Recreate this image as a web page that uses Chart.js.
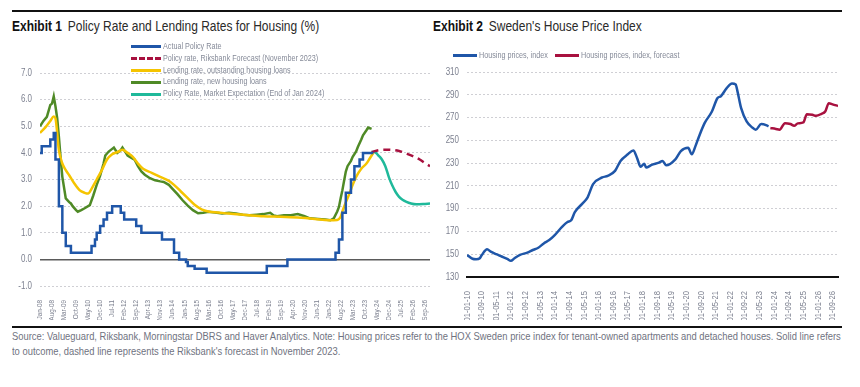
<!DOCTYPE html>
<html>
<head>
<meta charset="utf-8">
<script src="https://cdn.jsdelivr.net/npm/chart.js@4.4.1/dist/chart.umd.min.js"></script>
<style>
    body { margin: 0; width: 860px; height: 387px; background: #fff; position: relative; overflow: hidden;
           font-family: 'Liberation Sans', Arial, sans-serif; }
    .rule { position: absolute; left: 12px; width: 830px; background: #111; }
    .nx { display: inline-block; white-space: nowrap; transform: scaleX(0.8); transform-origin: 0 50%; }
    .title { position: absolute; top: 17px; font-size: 15px; line-height: 18px; color: #2a2a2a; }
    .title b { color: #111; margin-right: 3px; }
    canvas { position: absolute; }
    .legend { position: absolute; font-size: 9px; color: #858a98; white-space: nowrap; }
    .legend .row { height: 11.8px; line-height: 11.8px; display: flex; align-items: center; }
    .sw { display: inline-block; height: 0; border-top: 3px solid; }
    .legend .sw { width: 30px; margin-right: 2px; }
    .item2 { position: absolute; top: 49px; font-size: 9px; line-height: 12px; color: #858a98; display: flex; align-items: center; white-space: nowrap; }
    .item2 .sw { width: 24px; margin-right: 2px; }
    .note { position: absolute; left: 12px; top: 329px; font-size: 10.5px; line-height: 14.5px; color: #6f7280; transform: scaleX(0.895); transform-origin: 0 0; white-space: nowrap; }
</style>
</head>
<body>

<div class="rule" style="top:10px;height:2px"></div>
<div class="title" style="left:12px"><span class="nx"><b>Exhibit 1</b> Policy Rate and Lending Rates for Housing (%)</span></div>
<div class="title" style="left:433px"><span class="nx"><b>Exhibit 2</b> Sweden's House Price Index</span></div>

<canvas id="rateChart" width="440" height="262" style="left:0;top:58px"></canvas>
<canvas id="houseChart" width="420" height="262" style="left:440px;top:58px"></canvas>

<div class="legend" style="left:131px;top:41px">
    <div class="row"><span class="sw" style="border-color:#1f56a8"></span><span class="nx">Actual Policy Rate</span></div>
    <div class="row"><span class="sw" style="border-color:#a8113f;border-top-style:dashed"></span><span class="nx">Policy rate, Riksbank Forecast (November 2023)</span></div>
    <div class="row"><span class="sw" style="border-color:#f5c400"></span><span class="nx">Lending rate, outstanding housing loans</span></div>
    <div class="row"><span class="sw" style="border-color:#4f8a26"></span><span class="nx">Lending rate, new housing loans</span></div>
    <div class="row"><span class="sw" style="border-color:#1fb99a"></span><span class="nx">Policy Rate, Market Expectation (End of Jan 2024)</span></div>
</div>

<div class="item2" style="left:453px"><span class="sw" style="border-color:#1f56a8"></span><span class="nx">Housing prices, index</span></div>
<div class="item2" style="left:555px"><span class="sw" style="border-color:#a8113f"></span><span class="nx">Housing prices, index, forecast</span></div>

<div class="rule" style="top:326px;height:1.5px"></div>
<div class="note">Source: Valueguard, Riksbank, Morningstar DBRS and Haver Analytics. Note: Housing prices refer to the HOX Sweden price index for tenant-owned apartments and detached houses. Solid line refers<br>to outcome, dashed line represents the Riksbank's forecast in November 2023.</div>

<script>
// ======================
// DATA - EXHIBIT 1 (month strings, % values)
// ======================
const policyMonths = ['2008-01','2008-02','2008-07','2008-09','2008-10','2008-12','2009-02','2009-04','2009-07',
    '2010-07','2010-09','2010-10','2010-12','2011-02','2011-04','2011-07','2011-12','2012-02','2012-09','2012-12',
    '2013-12','2014-07','2014-10','2015-02','2015-03','2015-07','2016-02','2019-01','2020-01','2022-05','2022-07',
    '2022-09','2022-11','2023-02','2023-04','2023-07','2023-09','2024-03'];
const policyRates = [4.00, 4.25, 4.50, 4.75, 3.75, 2.00, 1.00, 0.50, 0.25,
    0.50, 0.75, 1.00, 1.25, 1.50, 1.75, 2.00, 1.75, 1.50, 1.25, 1.00,
    0.75, 0.25, 0.00, -0.10, -0.25, -0.35, -0.50, -0.25, 0.00, 0.25, 0.75,
    1.75, 2.50, 3.00, 3.50, 3.75, 4.00, 4.00];

const forecastMonths = ['2024-02','2024-06','2024-10','2025-02','2025-06','2025-10','2026-02','2026-06','2026-09','2026-12'];
const forecastRates = [4.03, 4.10, 4.12, 4.11, 4.07, 3.98, 3.88, 3.75, 3.62, 3.50];

const marketMonths = ['2024-02','2024-04','2024-06','2024-08','2024-10','2024-12','2025-02','2025-04','2025-06',
    '2025-08','2025-10','2026-01','2026-04','2026-08','2026-12'];
const marketRates = [4.03, 4.02, 3.90, 3.75, 3.50, 3.10, 2.78, 2.53, 2.35, 2.24, 2.17, 2.10, 2.07, 2.08, 2.10];

const outstandingMonths = ['2008-01','2008-04','2008-07','2008-09','2008-10','2008-12','2009-02','2009-04','2009-06',
    '2009-09','2009-12','2010-03','2010-05','2010-07','2010-10','2011-01','2011-04','2011-07','2011-10','2012-01',
    '2012-04','2012-07','2012-10','2013-01','2013-06','2013-11','2014-04','2014-07','2014-11','2015-03','2015-07',
    '2015-11','2016-03','2016-09','2017-03','2018-01','2018-11','2019-09','2020-07','2021-05','2022-01','2022-06',
    '2022-08','2022-09','2022-11','2023-01','2023-03','2023-05','2023-08','2023-11','2024-01','2024-03'];
const outstandingRates = [4.75, 4.95, 5.20, 5.37, 5.30, 4.10, 3.60, 3.35, 3.16,
    2.85, 2.60, 2.50, 2.47, 2.65, 3.00, 3.35, 3.75, 3.95, 4.03, 4.12,
    4.00, 3.85, 3.60, 3.40, 3.25, 3.10, 2.95, 2.80, 2.55, 2.30, 2.05,
    1.88, 1.80, 1.76, 1.72, 1.67, 1.62, 1.60, 1.57, 1.52, 1.47, 1.48,
    1.60, 1.80, 2.15, 2.45, 2.80, 3.10, 3.40, 3.60, 3.80, 4.00];

const newLoanMonths = ['2008-01','2008-03','2008-05','2008-07','2008-08','2008-09','2008-10','2008-11','2008-12',
    '2009-01','2009-02','2009-04','2009-06','2009-07','2009-08','2009-10','2009-11','2010-01','2010-03','2010-06',
    '2010-08','2010-10','2010-12','2011-02','2011-03','2011-05','2011-07','2011-08','2011-10','2011-12','2012-01',
    '2012-03','2012-04','2012-06','2012-08','2012-10','2012-12','2013-02','2013-05','2013-08','2013-11','2014-01',
    '2014-04','2014-06','2014-09','2014-12','2015-03','2015-06','2015-09','2015-12','2016-03','2016-07','2016-11',
    '2017-03','2017-07','2017-11','2018-03','2018-07','2018-11','2019-03','2019-05','2019-07','2019-11','2020-03',
    '2020-07','2020-11','2021-02','2021-07','2021-11','2022-02','2022-04','2022-06','2022-07','2022-08','2022-09',
    '2022-10','2022-11','2022-12','2023-02','2023-03','2023-05','2023-06','2023-08','2023-09','2023-11','2023-12',
    '2024-02'];
const newLoanRates = [5.00, 5.20, 5.35, 5.80, 5.85, 6.12, 5.75, 5.30, 4.60,
    3.80, 3.10, 2.29, 2.15, 2.10, 2.00, 1.85, 1.79, 1.85, 1.92, 2.04,
    2.40, 2.80, 3.15, 3.60, 3.90, 4.05, 4.15, 4.20, 4.00, 4.10, 4.20,
    4.00, 3.90, 3.82, 3.75, 3.50, 3.30, 3.18, 3.05, 2.97, 2.93, 2.91,
    2.80, 2.66, 2.45, 2.22, 2.02, 1.85, 1.73, 1.75, 1.79, 1.76, 1.72,
    1.75, 1.72, 1.68, 1.66, 1.68, 1.70, 1.75, 1.65, 1.62, 1.66, 1.66,
    1.70, 1.62, 1.54, 1.52, 1.50, 1.47, 1.54, 1.80, 1.97, 2.30, 2.60,
    2.95, 3.30, 3.50, 3.70, 3.85, 4.05, 4.22, 4.50, 4.66, 4.85, 4.95,
    4.90];

// ======================
// DATA - EXHIBIT 2 (HOX index)
// ======================
const houseMonths = ['2010-01','2010-04','2010-06','2010-08','2010-09','2010-12','2011-02','2011-05','2011-08',
    '2011-11','2012-01','2012-03','2012-06','2012-10','2013-01','2013-04','2013-07','2013-10','2014-01','2014-05',
    '2014-08','2014-10','2014-12','2015-04','2015-07','2015-10','2016-03','2016-06','2016-10','2017-01','2017-05',
    '2017-08','2017-10','2017-12','2018-02','2018-03','2018-06','2018-10','2018-12','2019-02','2019-07','2019-10',
    '2020-02','2020-04','2020-06','2020-08','2020-11','2021-03','2021-06','2021-08','2021-11','2022-02','2022-04',
    '2022-05','2022-07','2022-10','2023-01','2023-03','2023-06','2023-09','2023-10'];
const houseIndex = [149.4, 146.0, 145.6, 146.5, 149.0, 154.3, 152.3, 150.0, 148.0,
    145.9, 144.2, 146.5, 149.4, 151.4, 153.7, 155.7, 159.5, 162.4, 166.7, 174.0,
    178.3, 179.8, 187.0, 194.2, 200.0, 211.6, 217.4, 218.8, 223.2, 231.9, 237.7,
    241.1, 234.8, 226.7, 229.5, 226.1, 228.4, 230.4, 231.9, 228.1, 233.3, 240.5,
    243.4, 237.7, 244.9, 253.6, 265.1, 275.3, 286.9, 288.9, 295.6, 299.9, 299.0,
    293.0, 278.2, 266.6, 261.4, 259.4, 264.3, 263.1, 262.3];

const houseFcMonths = ['2023-11','2024-02','2024-04','2024-07','2024-10','2024-12','2025-02','2025-05','2025-07',
    '2025-10','2025-12','2026-03','2026-05','2026-07','2026-09','2026-12'];
const houseFcIndex = [260.8, 260.0, 259.4, 265.1, 264.3, 262.8, 264.9, 265.7, 273.0,
    272.4, 271.5, 273.3, 275.3, 282.6, 281.6, 280.2];

const MONTH_NAMES = ['Jan','Feb','Mar','Apr','May','Jun','Jul','Aug','Sep','Oct','Nov','Dec'];


// ======================
// HELPERS
// ======================
function monthIndex(s, baseYear) {
    const [y, m] = s.split('-').map(Number);
    return (y - baseYear) * 12 + (m - 1);
}

function toPoints(months, values, baseYear) {
    return months.map((s, i) => ({ x: monthIndex(s, baseYear), y: values[i] }));
}

const yy = n => String(n % 100).padStart(2, '0');

// the original uses a narrow typeface; squeeze canvas text horizontally
const NARROW = 0.8;
const narrowText = {
    id: 'narrowText',
    beforeDraw(chart) {
        const ctx = chart.ctx;
        if (ctx._narrow) return;
        const fill = ctx.fillText.bind(ctx);
        ctx.fillText = (text, x, y) => fill(text, x, y, ctx.measureText(text).width * NARROW);
        ctx._narrow = true;
    }
};

Chart.defaults.font.family = "'Liberation Sans', Arial, sans-serif";
Chart.defaults.color = '#7d8190';
Chart.defaults.animation = false;

const GRID = '#cfcfd4';


// ======================
// EXHIBIT 1 CHART
// ======================
new Chart(document.getElementById('rateChart'), {
    type: 'line',
    plugins: [narrowText],
    data: {
        datasets: [
            {
                label: 'Actual Policy Rate',
                data: toPoints(policyMonths, policyRates, 2008),
                borderColor: '#1f56a8',
                borderWidth: 2.5,
                stepped: true
            },
            {
                label: 'Policy rate, Riksbank Forecast (November 2023)',
                data: toPoints(forecastMonths, forecastRates, 2008),
                borderColor: '#a8113f',
                borderWidth: 2.5,
                borderDash: [7, 5],
                cubicInterpolationMode: 'monotone'
            },
            {
                label: 'Lending rate, outstanding housing loans',
                data: toPoints(outstandingMonths, outstandingRates, 2008),
                borderColor: '#f5c400',
                borderWidth: 2.5,
                cubicInterpolationMode: 'monotone'
            },
            {
                label: 'Lending rate, new housing loans',
                data: toPoints(newLoanMonths, newLoanRates, 2008),
                borderColor: '#4f8a26',
                borderWidth: 2.5
            },
            {
                label: 'Policy Rate, Market Expectation (End of Jan 2024)',
                data: toPoints(marketMonths, marketRates, 2008),
                borderColor: '#1fb99a',
                borderWidth: 2.5,
                cubicInterpolationMode: 'monotone'
            }
        ]
    },
    options: {
        responsive: false,
        layout: { padding: { top: 15, right: 10, left: 0, bottom: 0 } },
        elements: { point: { radius: 0 } },
        plugins: { legend: { display: false }, tooltip: { enabled: false } },
        scales: {
            x: {
                type: 'linear',
                min: 0,
                max: 227,
                grid: { display: false },
                border: { display: false },
                ticks: {
                    stepSize: 7,
                    includeBounds: false,
                    autoSkip: false,
                    maxRotation: 90,
                    minRotation: 90,
                    padding: 6,
                    font: { size: 8 },
                    callback: v => MONTH_NAMES[v % 12] + '-' + yy(8 + Math.floor(v / 12))
                },
                afterFit: s => { s.height = 34; s.paddingLeft = 0; s.paddingRight = 0; }
            },
            y: {
                min: -1,
                max: 7,
                grid: {
                    drawTicks: false,
                    color: c => (c.tick && c.tick.value === 0) ? '#5a5a5a' : GRID,
                    lineWidth: c => (c.tick && c.tick.value === 0) ? 1.5 : 1
                },
                border: { display: false, dash: c => (c.tick && c.tick.value === 0) ? [] : [2, 2] },
                ticks: {
                    stepSize: 1,
                    padding: 8,
                    font: { size: 10 },
                    callback: v => v.toFixed(1)
                },
                afterFit: s => { s.width = 40; }
            }
        }
    }
});


// ======================
// EXHIBIT 2 CHART
// ======================
new Chart(document.getElementById('houseChart'), {
    type: 'line',
    plugins: [narrowText],
    data: {
        datasets: [
            {
                label: 'Housing prices, index',
                data: toPoints(houseMonths, houseIndex, 2010),
                borderColor: '#1f56a8',
                borderWidth: 2.5,
                cubicInterpolationMode: 'monotone'
            },
            {
                label: 'Housing prices, index, forecast',
                data: toPoints(houseFcMonths, houseFcIndex, 2010),
                borderColor: '#a8113f',
                borderWidth: 2.5,
                cubicInterpolationMode: 'monotone'
            }
        ]
    },
    options: {
        responsive: false,
        layout: { padding: { top: 12, right: 22, left: 0, bottom: 0 } },
        elements: { point: { radius: 0 } },
        plugins: { legend: { display: false }, tooltip: { enabled: false } },
        scales: {
            x: {
                type: 'linear',
                min: 0,
                max: 203,
                grid: { display: false },
                border: { display: true, color: '#111', width: 2 },
                ticks: {
                    stepSize: 8,
                    includeBounds: false,
                    autoSkip: false,
                    maxRotation: 90,
                    minRotation: 90,
                    padding: 6,
                    font: { size: 9.5 },
                    callback: v => '01-' + String(v % 12 + 1).padStart(2, '0') + '-' + yy(10 + Math.floor(v / 12))
                },
                afterFit: s => { s.height = 43; s.paddingLeft = 0; s.paddingRight = 0; }
            },
            y: {
                min: 130,
                max: 310,
                grid: { drawTicks: false, color: GRID },
                border: { display: false, dash: [2, 2] },
                ticks: { stepSize: 20, padding: 8, font: { size: 10 } },
                afterFit: s => { s.width = 27; }
            }
        }
    }
});
</script>
</body>
</html>
